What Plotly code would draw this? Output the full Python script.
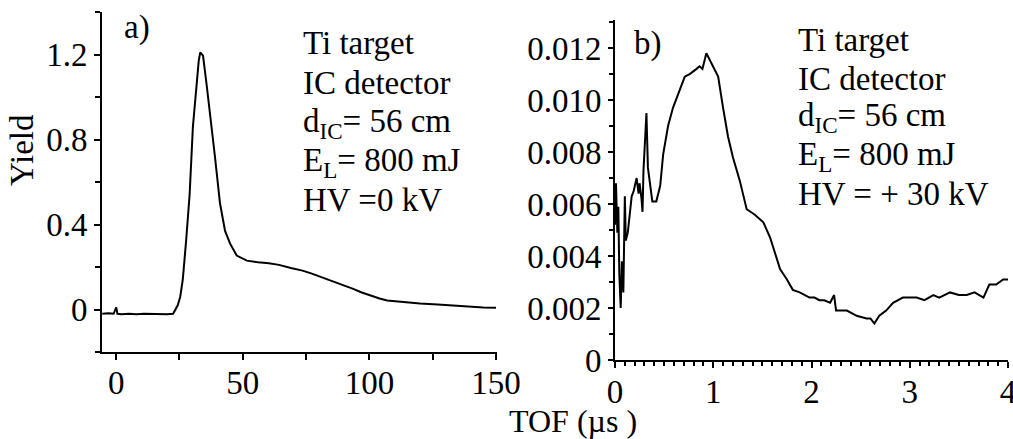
import plotly.graph_objects as go

# Panel a) data (TOF in us, yield)
a_x = [-5.5, -3, -1, 0, 0.5, 2, 5, 8, 11, 14, 17, 20, 22.5, 24.3, 25.3, 26.3, 27.6, 29, 30.3, 31.6,
       32.6, 33.2, 34.3, 35.7, 37, 39, 41, 43, 45, 47.6, 51.6, 56, 60.3, 64.3, 69, 73.6, 77, 81.6,
       86.9, 90, 93.6, 97, 100.3, 104, 107, 113.6, 120, 127, 134, 140.3, 145, 150]
a_y = [-0.02, -0.018, -0.02, 0.01, -0.02, -0.022, -0.02, -0.022, -0.02, -0.021, -0.02, -0.022, -0.02,
       0.02, 0.06, 0.14, 0.32, 0.54, 0.86, 1.06, 1.17, 1.21, 1.195, 1.06, 0.935, 0.72, 0.50, 0.37,
       0.31, 0.254, 0.23, 0.222, 0.218, 0.21, 0.195, 0.183, 0.17, 0.15, 0.128, 0.115, 0.097, 0.08,
       0.066, 0.052, 0.042, 0.034, 0.028, 0.023, 0.017, 0.011, 0.01, 0.008]

# Panel b) data
b_x = [0.0, 0.01, 0.024, 0.034, 0.044, 0.058, 0.07, 0.085, 0.10, 0.11, 0.13, 0.15, 0.17, 0.19, 0.22,
       0.24, 0.25, 0.27, 0.28, 0.29, 0.31, 0.32, 0.335, 0.356, 0.38, 0.42, 0.46, 0.49, 0.54, 0.59,
       0.66, 0.71, 0.76, 0.80, 0.83, 0.86, 0.89, 0.93, 0.98, 1.05, 1.10, 1.15, 1.20, 1.27, 1.34,
       1.42, 1.51, 1.58, 1.63, 1.68, 1.75, 1.81, 1.88, 1.93, 1.98, 2.03, 2.08, 2.13, 2.19, 2.23,
       2.25, 2.30, 2.36, 2.46, 2.56, 2.60, 2.64, 2.69, 2.76, 2.83, 2.88, 2.93, 3.0, 3.07, 3.15,
       3.24, 3.30, 3.41, 3.50, 3.58, 3.66, 3.75, 3.81, 3.88, 3.95, 4.0]
b_y = [0.0052, 0.0068, 0.0049, 0.0059, 0.0033, 0.0020, 0.0038, 0.0026, 0.0063, 0.0046, 0.0049,
       0.0056, 0.0063, 0.0065, 0.0070, 0.0064, 0.0068, 0.0062, 0.0057, 0.0073, 0.0092, 0.0095,
       0.0074, 0.0067, 0.0061, 0.0061, 0.0067, 0.0079, 0.0090, 0.0097, 0.0104, 0.0109, 0.0110,
       0.0111, 0.0112, 0.0113, 0.0112, 0.0118, 0.0114, 0.0109, 0.0097, 0.0086, 0.0078, 0.0069,
       0.0058, 0.0056, 0.0053, 0.0047, 0.0041, 0.0035, 0.0031, 0.0027, 0.0026, 0.0025, 0.0024,
       0.0024, 0.0023, 0.0023, 0.0022, 0.0025, 0.0019, 0.0019, 0.0019, 0.0017, 0.0016, 0.0016,
       0.0014, 0.0017, 0.0019, 0.0022, 0.0023, 0.0024, 0.0024, 0.0024, 0.0023, 0.0025, 0.0024,
       0.0026, 0.0025, 0.0025, 0.0026, 0.0024, 0.0029, 0.0029, 0.0031, 0.0031]

a_yticks = [0, 0.4, 0.8, 1.2]
a_ytext = ["0", "0.4", "0.8", "1.2"]
a_xticks = [0, 50, 100, 150]
b_yticks = [0, 0.002, 0.004, 0.006, 0.008, 0.010, 0.012]
b_ytext = ["0", "0.002", "0.004", "0.006", "0.008", "0.010", "0.012"]
b_xticks = [0, 1, 2, 3, 4]

info_a = ["Ti target", "IC detector", "d<sub>IC</sub>= 56 cm", "E<sub>L</sub>= 800 mJ", "HV =0 kV"]
info_b = ["Ti target", "IC detector", "d<sub>IC</sub>= 56 cm", "E<sub>L</sub>= 800 mJ", "HV = + 30 kV"]

FONT = "Liberation Serif, Times New Roman, serif"
W, H = 1013, 439

fig = go.Figure()
fig.add_trace(go.Scatter(x=a_x, y=a_y, mode="lines", line=dict(color="black", width=2),
                         xaxis="x", yaxis="y", showlegend=False))
fig.add_trace(go.Scatter(x=b_x, y=b_y, mode="lines", line=dict(color="black", width=2),
                         xaxis="x2", yaxis="y2", showlegend=False))

def px_x(p):
    return p / W

def px_y(p):
    return 1 - p / H

axis_common = dict(showline=True, linecolor="black", linewidth=2, ticks="outside",
                   tickcolor="black", tickwidth=2, showgrid=False, zeroline=False,
                   automargin=False, ticklabeloverflow="allow",
                   tickfont=dict(family=FONT, size=33, color="black"))

fig.update_layout(
    width=W, height=H, margin=dict(l=0, r=0, t=0, b=0, autoexpand=False),
    paper_bgcolor="white", plot_bgcolor="white",
    xaxis=dict(domain=[px_x(102), px_x(497)], range=[-5.6, 150.4], anchor="y",
               tickvals=a_xticks, ticklen=6, ticklabelstandoff=-6,
               minor=dict(dtick=25, tick0=0, ticklen=6, ticks="outside", tickcolor="black", tickwidth=2),
               **axis_common),
    yaxis=dict(domain=[px_y(352), px_y(12)], range=[-0.2, 1.4], anchor="x",
               tickvals=a_yticks, ticktext=a_ytext, ticklen=6,
               minor=dict(dtick=0.2, tick0=0, ticklen=5, ticks="outside", tickcolor="black", tickwidth=2),
               **axis_common),
    xaxis2=dict(domain=[px_x(615), px_x(1008)], range=[0, 4], anchor="y2",
                tickvals=b_xticks, ticklen=6, ticklabelstandoff=-5,
                minor=dict(dtick=0.1, tick0=0, ticklen=4, ticks="outside", tickcolor="black", tickwidth=2),
                **axis_common),
    yaxis2=dict(domain=[px_y(360), px_y(20)], range=[0, 0.01308], anchor="x2",
                tickvals=b_yticks, ticktext=b_ytext, ticklen=5,
                minor=dict(dtick=0.001, tick0=0, ticklen=4, ticks="outside", tickcolor="black", tickwidth=2),
                **axis_common),
)

ann = []
line_y_a = [43, 83, 123, 162, 200]
line_y_b = [40, 79, 118, 156, 194]
for t, yy in zip(info_a, line_y_a):
    ann.append(dict(text=t, x=px_x(301), y=px_y(yy), xref="paper", yref="paper",
                    xanchor="left", yanchor="middle", showarrow=False,
                    font=dict(family=FONT, size=33, color="black")))
for t, yy in zip(info_b, line_y_b):
    ann.append(dict(text=t, x=px_x(796), y=px_y(yy), xref="paper", yref="paper",
                    xanchor="left", yanchor="middle", showarrow=False,
                    font=dict(family=FONT, size=33, color="black")))
ann.append(dict(text="a)", x=px_x(137), y=px_y(27), xref="paper", yref="paper",
                xanchor="center", yanchor="middle", showarrow=False,
                font=dict(family=FONT, size=33, color="black")))
ann.append(dict(text="b)", x=px_x(648), y=px_y(43), xref="paper", yref="paper",
                xanchor="center", yanchor="middle", showarrow=False,
                font=dict(family=FONT, size=33, color="black")))
ann.append(dict(text="Yield", x=px_x(22), y=px_y(150), xref="paper", yref="paper",
                xanchor="center", yanchor="middle", showarrow=False, textangle=-90,
                font=dict(family=FONT, size=33, color="black")))
ann.append(dict(text="TOF (µs )", x=px_x(573), y=px_y(421), xref="paper", yref="paper",
                xanchor="center", yanchor="middle", showarrow=False,
                font=dict(family=FONT, size=32, color="black")))
fig.update_layout(annotations=ann)

fig.write_html("out.html")
